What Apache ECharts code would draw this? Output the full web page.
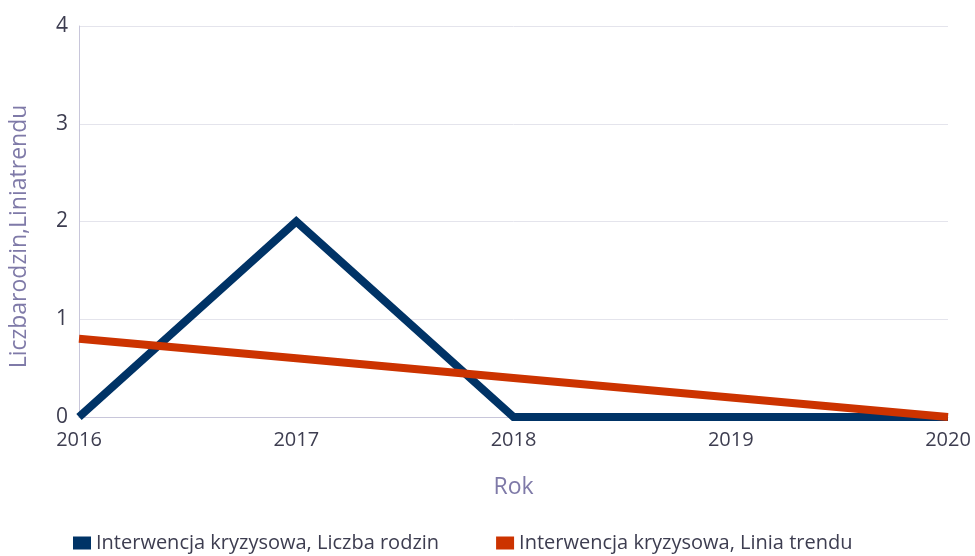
<!DOCTYPE html>
<html><head><meta charset="utf-8">
<script src="https://cdn.jsdelivr.net/npm/echarts@6/dist/echarts.min.js"></script>
<style>html,body{margin:0;padding:0;background:#fff}#c{width:975px;height:556px}</style>
</head><body><div id="c"></div>
<script>
var years = ['2016','2017','2018','2019','2020'];
var liczbaRodzin = [0, 2, 0, 0, 0];
var liniaTrendu = [0.8, 0.6, 0.4, 0.2, 0];
var seriesNames = ['Interwencja kryzysowa, Liczba rodzin', 'Interwencja kryzysowa, Linia trendu'];
var font = '"Open Sans", sans-serif';
var chart = echarts.init(document.getElementById('c'));
chart.setOption({
  animation: false,
  grid: {left: 78, right: 27, top: 26, bottom: 139},
  legend: {
    top: 528, left: 68, itemGap: 57, itemWidth: 18, itemHeight: 13,
    icon: 'rect',
    textStyle: {fontFamily: font, fontSize: 20, color: '#3d3d50'},
    data: seriesNames
  },
  xAxis: {
    type: 'category', data: years, boundaryGap: false,
    name: 'Rok', nameLocation: 'middle', nameGap: 59,
    nameTextStyle: {fontFamily: font, fontSize: 23, color: '#7f7aa8'},
    axisLine: {lineStyle: {color: '#c8c6da', width: 1}},
    axisTick: {show: false},
    axisLabel: {fontFamily: font, fontSize: 20, color: '#3d3d50', margin: 13}
  },
  yAxis: {
    type: 'value', min: 0, max: 4, interval: 1,
    name: 'Liczbarodzin,Liniatrendu', nameLocation: 'middle', nameGap: 48,
    nameTextStyle: {fontFamily: font, fontSize: 23, color: '#7f7aa8', padding: [0, 30, 0, 0]},
    axisLine: {show: true, lineStyle: {color: '#c8c6da', width: 1}},
    axisTick: {show: false},
    splitLine: {lineStyle: {color: '#e4e4ec', width: 1}},
    axisLabel: {fontFamily: font, fontSize: 21, color: '#3d3d50', margin: 11}
  },
  series: [
    {name: seriesNames[0], type: 'line', data: liczbaRodzin, symbol: 'none',
     itemStyle: {color: '#003366'}, lineStyle: {color: '#003366', width: 8, cap: 'butt', join: 'miter'}},
    {name: seriesNames[1], type: 'line', data: liniaTrendu, symbol: 'none',
     itemStyle: {color: '#cc3300'}, lineStyle: {color: '#cc3300', width: 8}}
  ]
});
</script></body></html>
